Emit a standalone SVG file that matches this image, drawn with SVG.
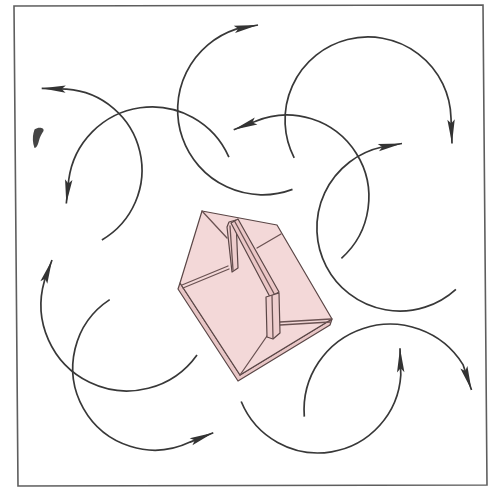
<svg xmlns="http://www.w3.org/2000/svg" width="494" height="487" viewBox="0 0 494 487">
  <style>
    .frame { fill: none; stroke: #5e5e5e; stroke-width: 1.6; }
    .flow { fill: none; stroke: #383838; stroke-width: 1.7; marker-end: url(#head); }
    .edge { stroke: #5a4646; stroke-width: 1.2; stroke-linejoin: round; }
    .fold { fill: none; stroke: #6a5252; stroke-width: 1.3; stroke-linecap: round; }
  </style>
  <defs>
    <marker id="head" viewBox="-25 -5 26 10" refX="0" refY="0" markerWidth="26" markerHeight="10" markerUnits="userSpaceOnUse" orient="auto" overflow="visible">
      <path d="M0,0 L-24,-3.7 L-20,0 L-24,3.7 Z" fill="#333"/>
    </marker>
    <filter id="soft" x="-50%" y="-50%" width="200%" height="200%">
      <feGaussianBlur stdDeviation="0.6"/>
    </filter>
  </defs>

  <rect width="494" height="487" fill="#ffffff"/>

  <!-- outer border -->
  <polygon class="frame" points="14,6 483,5 487,485 18,486"/>

  <!-- small ink mark -->
  <path d="M34.5,129.5 C39,126.5 44.5,128 43.5,131 C41.5,134 40,136.5 39,140.5 C38,144.5 37,147.5 34.5,148 C32.5,143 32.5,137 33.5,133 Z" fill="#444" filter="url(#soft)"/>

  <!-- circulating arrows -->
  <g id="arrows">
    <path class="flow" d="M101.9,239.9 A81,81 0 0 0 66.7,89.2 L41.7,88.3"/>
    <path class="flow" d="M228.9,157.1 A84,84 0 0 0 68.7,180.0 L66.3,203.5"/>
    <path class="flow" d="M292.5,189.4 A85,85 0 1 1 236.0,29.1 L258,25"/>
    <path class="flow" d="M294.2,157.9 A83,83 0 1 1 451.0,118.0 L452,143.5"/>
    <path class="flow" d="M341.4,258.3 A82,82 0 0 0 255.0,121.5 L233.7,129.7"/>
    <path class="flow" d="M455.9,289.3 A83,83 0 1 1 382.0,147.0 L402,143.5"/>
    <path class="flow" d="M197.0,354.9 A86,86 0 0 1 44.4,281.0 L52,260"/>
    <path class="flow" d="M109.7,299.6 A82,82 0 0 0 190.1,442.1 L213.3,432.7"/>
    <path class="flow" d="M304.3,416.6 A86,86 0 0 1 463.0,364.6 L471.5,390"/>
    <path class="flow" d="M241.2,401.5 A83,83 0 0 0 400.8,375.0 L400,348.3"/>
  </g>

  <!-- pink tray with handle -->
  <g id="tray">
    <!-- slab side -->
    <polygon class="edge" fill="#e8c6c6" points="180,283 240,375 332,319 330,325 238,381 178,289"/>
    <!-- top surface -->
    <polygon class="edge" fill="#f3d8d8" points="202,211 277,225 332,319 240,375 180,283"/>
    <!-- folds -->
    <line class="fold" x1="202" y1="211" x2="227" y2="238"/>
    <line class="fold" x1="182" y1="285" x2="228" y2="266"/>
    <line class="fold" x1="183" y1="288" x2="229" y2="269"/>
    <line class="fold" x1="257" y1="248" x2="281" y2="234"/>
    <line class="fold" x1="280" y1="322" x2="331" y2="319"/>
    <line class="fold" x1="280" y1="325" x2="330" y2="322"/>
    <line class="fold" x1="267" y1="336" x2="240" y2="375"/>
    <!-- first post -->
    <polygon class="edge" fill="#eecdcd" points="227,227 229,222 236,220 238,268 232,272"/>
    <line class="fold" x1="230" y1="226" x2="233" y2="270"/>
    <!-- bar -->
    <polygon class="edge" fill="#eac6c6" points="231,223 238,219 279,292 270,297"/>
    <line class="fold" x1="234.5" y1="221" x2="274.5" y2="294.5"/>
    <!-- second post -->
    <polygon class="edge" fill="#eecdcd" points="266,297 279,293 280,333 273,339 267,337"/>
    <line class="fold" x1="272" y1="295.5" x2="273" y2="338.5"/>
  </g>
</svg>
